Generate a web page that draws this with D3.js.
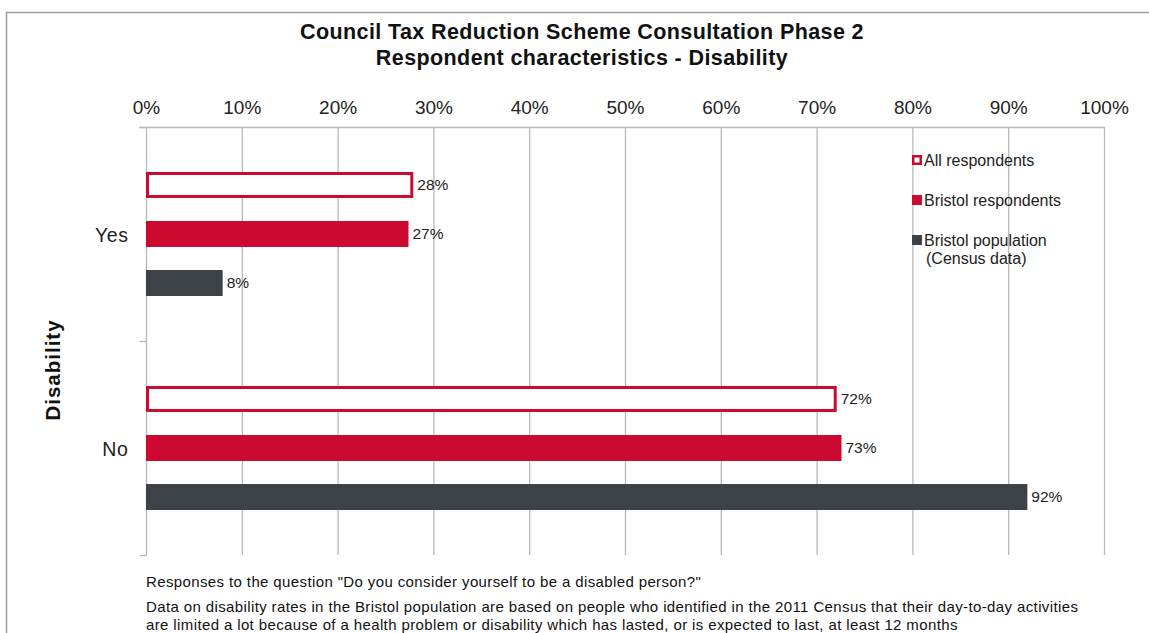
<!DOCTYPE html>
<html><head><meta charset="utf-8">
<script src="https://cdn.jsdelivr.net/npm/d3@7"></script>
<style>body{margin:0;background:#fff;font-family:"Liberation Sans",Arial,sans-serif}</style>
</head><body><svg id="c" width="1149" height="633"></svg>
<script>
const categories = ["Yes", "No"];
const seriesNames = ["All respondents", "Bristol respondents", "Bristol population\n(Census data)"];
const allRespondents = [27.9, 72.1];
const bristolRespondents = [27.4, 72.6];
const bristolPopulation = [8.0, 92.0];
const tickValues = [0, 10, 20, 30, 40, 50, 60, 70, 80, 90, 100];
const titleLines = ["Council Tax Reduction Scheme Consultation Phase 2", "Respondent characteristics - Disability"];
const axisTitle = "Disability";
const notes = ["Responses to the question \"Do you consider yourself to be a disabled person?\"",
  "Data on disability rates in the Bristol population are based on people who identified in the 2011 Census that their day-to-day activities",
  "are limited a lot because of a health problem or disability which has lasted, or is expected to last, at least 12 months"];

const RED = "#cc0a2f", DARK = "#3d4148", GRID = "#b8b8b8";
const svg = d3.select("#c");
const font = '"Liberation Sans",Arial,sans-serif';

// frame
svg.append("rect").attr("x",6.5).attr("y",12.5).attr("width",1160).attr("height",640)
  .attr("fill","none").attr("stroke","#9a9a9a").attr("stroke-width",1.5);

// title
svg.selectAll("text.title").data(titleLines).join("text").attr("class","title")
  .attr("x",582).attr("y",(d,i)=>39+i*26).attr("text-anchor","middle")
  .attr("font-family",font).attr("font-weight","bold").attr("font-size",21.5).attr("letter-spacing",0.4)
  .attr("fill","#111").text(d=>d);

const x = d3.scaleLinear().domain([0,100]).range([146,1104]);
const y = d3.scaleBand().domain(categories).range([127,555]);
const sub = d3.scaleBand().domain([0,1,2]).range([0,y.bandwidth()]).paddingInner(0.47).paddingOuter(0.918);

// gridlines
svg.append("g").selectAll("line").data(tickValues.slice(1)).join("line")
  .attr("x1",d=>x(d)+0.5).attr("x2",d=>x(d)+0.5).attr("y1",127).attr("y2",555)
  .attr("stroke",GRID).attr("stroke-width",1.3);

// top axis
const ax = svg.append("g").attr("transform","translate(0,127.5)")
  .call(d3.axisTop(x).tickValues(tickValues).tickFormat(d=>d+"%").tickSize(0).tickPadding(14));
ax.select(".domain").attr("stroke",GRID).attr("stroke-width",1.3).attr("d","M139,0H1104.5");
ax.selectAll("text").attr("font-family",font).attr("font-size",19).attr("fill","#222");

// left axis
const ly = svg.append("g").attr("transform","translate(146.5,0)");
ly.append("line").attr("x1",0).attr("x2",0).attr("y1",127).attr("y2",555).attr("stroke",GRID).attr("stroke-width",1.3);
ly.selectAll("line.t").data([127,(y("No")),555]).join("line").attr("class","t")
  .attr("x1",-7).attr("x2",0).attr("y1",d=>d+0.5).attr("y2",d=>d+0.5).attr("stroke",GRID).attr("stroke-width",1.3);
ly.selectAll("text").data(categories).join("text")
  .attr("x",-18).attr("y",d=>y(d)+y.bandwidth()/2+1).attr("dy","0.35em").attr("text-anchor","end")
  .attr("font-family",font).attr("font-size",19.5).attr("letter-spacing",0.6).attr("fill","#222").text(d=>d);

// axis title
svg.append("text").attr("transform","translate(60,370) rotate(-90)").attr("text-anchor","middle")
  .attr("font-family",font).attr("font-weight","bold").attr("font-size",20.5).attr("letter-spacing",1)
  .attr("fill","#111").text(axisTitle);

// bars
const series = [allRespondents, bristolRespondents, bristolPopulation];
const rows = [];
categories.forEach((c,ci)=>series.forEach((s,si)=>rows.push({c,si,v:s[ci]})));
const bh = sub.bandwidth();
const g = svg.append("g");
g.selectAll("rect").data(rows).join("rect")
  .attr("x",d=>d.si===0?x(0)+1.5:x(0))
  .attr("y",d=>y(d.c)+sub(d.si)+(d.si===0?1.5:0))
  .attr("width",d=>d.si===0?x(d.v)-x(0)-3:x(d.v)-x(0))
  .attr("height",d=>d.si===0?bh-3:bh)
  .attr("fill",d=>d.si===0?"#fff":d.si===1?RED:DARK)
  .attr("stroke",d=>d.si===0?RED:"none").attr("stroke-width",3);
g.selectAll("text").data(rows).join("text")
  .attr("x",d=>x(d.v)+4).attr("y",d=>y(d.c)+sub(d.si)+bh/2).attr("dy","0.35em")
  .attr("font-family",font).attr("font-size",15.5).attr("fill","#222").text(d=>Math.round(d.v)+"%");

// legend
const lg = svg.append("g").attr("transform","translate(912,0)");
const legY = [160,200,240];
seriesNames.forEach((n,i)=>{
  if(i===0){
    lg.append("rect").attr("x",1.25).attr("y",legY[i]-3.75).attr("width",7.5).attr("height",7.5)
      .attr("fill","#fff").attr("stroke",RED).attr("stroke-width",2.5);
  } else {
    lg.append("rect").attr("x",0).attr("y",legY[i]-5).attr("width",10).attr("height",10).attr("fill",i===1?RED:DARK);
  }
  const t = lg.append("text").attr("x",12).attr("y",legY[i])
    .attr("font-family",font).attr("font-size",16).attr("fill","#222");
  n.split("\n").forEach((line,li)=>t.append("tspan").attr("x",li?14:12).attr("dy",li?"1.15em":"0.35em").text(line));
});

// notes
svg.selectAll("text.note").data(notes).join("text").attr("class","note")
  .attr("x",146).attr("y",(d,i)=>[587,612,630][i])
  .attr("font-family",font).attr("font-size",15).attr("letter-spacing",0.38).attr("fill","#111").text(d=>d);
</script></body></html>
